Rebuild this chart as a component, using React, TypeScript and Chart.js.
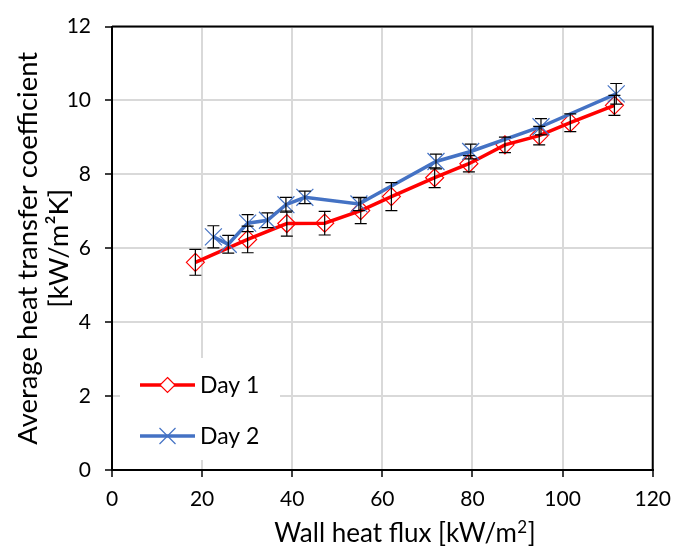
import React, { useEffect, useRef } from "react";
import { Chart, registerables } from "chart.js";

Chart.register(...registerables);

// ---- data ----
const day1X = [18.5, 30.1, 38.8, 47.2, 55.2, 62.0, 71.6, 79.2, 87.2, 94.8, 101.7, 111.5];
const day1Y = [5.62, 6.24, 6.67, 6.68, 7.02, 7.4, 7.91, 8.29, 8.8, 9.05, 9.4, 9.87];
const day1Err = [0.35, 0.36, 0.34, 0.32, 0.35, 0.38, 0.27, 0.22, 0.21, 0.25, 0.24, 0.27];

const day2X = [22.5, 25.8, 30.1, 34.5, 38.6, 42.8, 54.8, 71.9, 79.6, 95.2, 111.9];
const day2Y = [6.31, 6.11, 6.68, 6.76, 7.18, 7.38, 7.2, 8.35, 8.62, 9.29, 10.18];
const day2Err = [0.3, 0.24, 0.23, 0.2, 0.2, 0.17, 0.18, 0.2, 0.2, 0.22, 0.28];

const seriesNames = ["Day 1", "Day 2"];
// x title split around its superscript: "Wall heat flux [kW/m²]"
const xTitleParts = ["Wall heat flux [kW/m", "2", "]"];
const yTitle = ["Average heat transfer coefficient", "[kW/m²K]"];

const FONT = "Lato, 'Open Sans', sans-serif";
const RED = "#FF0000";
const BLUE = "#4472C4";

const errorBarPlugin = {
  id: "errorBars",
  afterDatasetsDraw(chart: any) {
    const ctx = chart.ctx;
    const xs = chart.scales.x;
    const ys = chart.scales.y;
    ctx.save();
    ctx.strokeStyle = "#000";
    ctx.lineWidth = 1.2;
    chart.data.datasets.forEach((ds: any) => {
      const errs: number[] = ds.errors || [];
      ds.data.forEach((p: any, j: number) => {
        const x = xs.getPixelForValue(p.x);
        const yt = ys.getPixelForValue(p.y + errs[j]);
        const yb = ys.getPixelForValue(p.y - errs[j]);
        const cap = 6;
        ctx.beginPath();
        ctx.moveTo(x, yt);
        ctx.lineTo(x, yb);
        ctx.moveTo(x - cap, yt);
        ctx.lineTo(x + cap, yt);
        ctx.moveTo(x - cap, yb);
        ctx.lineTo(x + cap, yb);
        ctx.stroke();
      });
    });
    ctx.restore();
  },
};

const xTitlePlugin = {
  id: "xTitle",
  afterDraw(chart: any) {
    const ctx = chart.ctx;
    ctx.save();
    ctx.fillStyle = "#000";
    ctx.textBaseline = "alphabetic";
    ctx.textAlign = "left";
    const big = `26px ${FONT}`;
    const small = `17px ${FONT}`;
    ctx.font = big;
    const w0 = ctx.measureText(xTitleParts[0]).width;
    const w2 = ctx.measureText(xTitleParts[2]).width;
    ctx.font = small;
    const w1 = ctx.measureText(xTitleParts[1]).width;
    const total = w0 + w1 + w2 + 1;
    const cx = 405;
    const base = 542;
    let x = cx - total / 2;
    ctx.font = big;
    ctx.fillText(xTitleParts[0], x, base);
    x += w0 + 0.5;
    ctx.font = small;
    ctx.fillText(xTitleParts[1], x, base - 9);
    x += w1 + 0.5;
    ctx.font = big;
    ctx.fillText(xTitleParts[2], x, base);
    ctx.restore();
  },
};

const frameAndLegendPlugin = {
  id: "frameLegend",
  beforeDatasetsDraw(chart: any) {
    const ctx = chart.ctx;
    const a = chart.chartArea;
    ctx.save();
    // legend box (inside plot, lower left)
    const lx = 120;
    const ly = 358;
    const lw = 160;
    const lh = 102;
    ctx.fillStyle = "#fff";
    ctx.fillRect(lx, ly, lw, lh);
    const items = [
      { name: seriesNames[0], color: RED, y: 385, kind: "diamond" },
      { name: seriesNames[1], color: BLUE, y: 436, kind: "x" },
    ];
    items.forEach((it) => {
      ctx.strokeStyle = it.color;
      ctx.lineWidth = 3.5;
      ctx.beginPath();
      ctx.moveTo(140, it.y);
      ctx.lineTo(195, it.y);
      ctx.stroke();
      const cx = 167.5;
      ctx.lineWidth = 1.2;
      if (it.kind === "diamond") {
        const r = 7.5;
        ctx.fillStyle = "#fff";
        ctx.beginPath();
        ctx.moveTo(cx, it.y - r);
        ctx.lineTo(cx + r, it.y);
        ctx.lineTo(cx, it.y + r);
        ctx.lineTo(cx - r, it.y);
        ctx.closePath();
        ctx.fill();
        ctx.stroke();
      } else {
        const d = 8;
        ctx.beginPath();
        ctx.moveTo(cx - d, it.y - d);
        ctx.lineTo(cx + d, it.y + d);
        ctx.moveTo(cx - d, it.y + d);
        ctx.lineTo(cx + d, it.y - d);
        ctx.stroke();
      }
      ctx.fillStyle = "#000";
      ctx.font = `23px ${FONT}`;
      ctx.textBaseline = "middle";
      ctx.textAlign = "left";
      ctx.fillText(it.name, 200, it.y + 1);
    });
    // top and right frame lines
    ctx.strokeStyle = "#000";
    ctx.lineWidth = 2;
    ctx.beginPath();
    ctx.moveTo(a.left, a.top);
    ctx.lineTo(a.right, a.top);
    ctx.lineTo(a.right, a.bottom);
    ctx.stroke();
    ctx.restore();
  },
};

export default function App() {
  const ref = useRef<HTMLCanvasElement | null>(null);

  useEffect(() => {
    if (!ref.current) return;
    const chart = new Chart(ref.current, {
      type: "scatter",
      data: {
        datasets: [
          {
            label: seriesNames[0],
            data: day1X.map((x, i) => ({ x, y: day1Y[i] })),
            errors: day1Err,
            showLine: true,
            borderColor: RED,
            borderWidth: 3.5,
            pointStyle: "rectRot",
            pointRadius: 9,
            pointBorderColor: RED,
            pointBackgroundColor: "rgba(0,0,0,0)",
            pointBorderWidth: 1.2,
            tension: 0,
            order: 2,
          } as any,
          {
            label: seriesNames[1],
            data: day2X.map((x, i) => ({ x, y: day2Y[i] })),
            errors: day2Err,
            showLine: true,
            borderColor: BLUE,
            borderWidth: 3.5,
            pointStyle: "crossRot",
            pointRadius: 12,
            pointBorderColor: BLUE,
            pointBackgroundColor: BLUE,
            pointBorderWidth: 1.2,
            tension: 0,
            order: 1,
          } as any,
        ],
      },
      options: {
        responsive: false,
        animation: false,
        layout: { padding: { top: 21, right: 19, left: 0, bottom: 0 } },
        plugins: {
          legend: { display: false },
          tooltip: { enabled: false },
        },
        scales: {
          x: {
            type: "linear",
            min: 0,
            max: 120,
            afterFit: (s: any) => {
              s.height = 77;
            },
            ticks: {
              stepSize: 20,
              color: "#000",
              font: { family: FONT, size: 21 },
              padding: 10,
              maxRotation: 0,
            },
            grid: {
              color: "#d9d9d9",
              lineWidth: 2,
              tickLength: 7,
              tickColor: "#000",
              tickWidth: 1.5,
            },
            border: { color: "#000", width: 2 },
            title: { display: false },
          },
          y: {
            type: "linear",
            min: 0,
            max: 12,
            afterFit: (s: any) => {
              s.width = 112;
            },
            ticks: {
              stepSize: 2,
              color: "#000",
              font: { family: FONT, size: 21 },
              padding: 14,
            },
            grid: {
              color: "#d9d9d9",
              lineWidth: 2,
              tickLength: 7,
              tickColor: "#000",
              tickWidth: 1.5,
            },
            border: { color: "#000", width: 2 },
            title: {
              display: true,
              text: yTitle,
              color: "#000",
              font: { family: FONT, size: 27.5, lineHeight: 1.15 },
              padding: { top: 12, bottom: 0 },
            },
          },
        },
      } as any,
      plugins: [frameAndLegendPlugin, errorBarPlugin, xTitlePlugin],
    });
    return () => chart.destroy();
  }, []);

  return (
    <div style={{ position: "fixed", left: 0, top: 0, width: 681, height: 547, background: "#fff" }}>
      <canvas ref={ref} width={681} height={547} style={{ display: "block", width: 681, height: 547 }} />
    </div>
  );
}
